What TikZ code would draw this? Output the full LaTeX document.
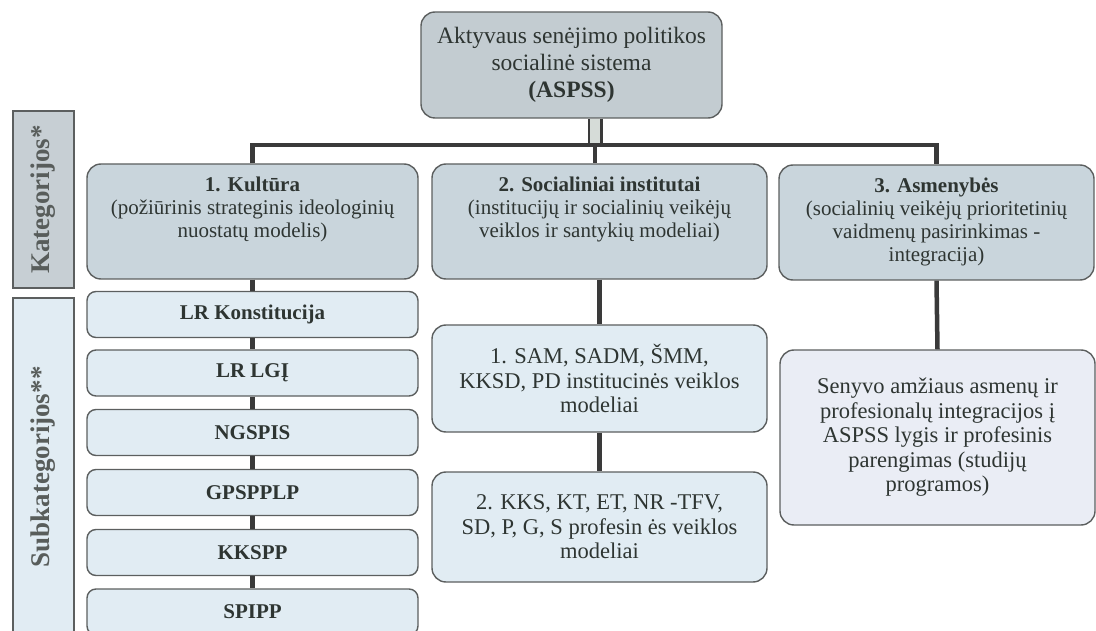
\documentclass[tikz,border=0pt]{standalone}
\usepackage{fontspec}
\setmainfont{Liberation Serif}
\usetikzlibrary{positioning}

\definecolor{linegray}{HTML}{3A3A3A}
\definecolor{trunkfill}{HTML}{D6DCD8}
\definecolor{boxline}{HTML}{5C5F5F}
\definecolor{textcol}{HTML}{2E3532}
\definecolor{topfill}{HTML}{C3CCD1}
\definecolor{catfill}{HTML}{C9D5DC}
\definecolor{katfill}{HTML}{C7CFD4}
\definecolor{subfill}{HTML}{E1ECF3}
\definecolor{senfill}{HTML}{EAEDF5}

\tikzset{
    box/.style={draw=boxline, line width=1.4pt, rounded corners=14pt, inner sep=0pt, text=textcol, align=center},
    topbox/.style={box, fill=topfill, minimum width=301pt, minimum height=106pt, font=\fontsize{23.5}{27}\selectfont},
    catbox/.style={box, fill=catfill, minimum height=115pt},
    cattext/.style={align=center, text=textcol, inner sep=2pt, font=\fontsize{21}{23}\selectfont},
    subbox/.style={box, rounded corners=9pt, fill=subfill, minimum width=331pt, minimum height=46pt, font=\fontsize{21}{24}\selectfont\bfseries},
    modbox/.style={box, fill=subfill, minimum width=335pt, font=\fontsize{22.5}{24.5}\selectfont},
    sidebox/.style={draw=boxline, line width=1.4pt, rotate=90, minimum height=61pt, inner sep=0pt, text=textcol!80, font=\fontsize{27}{30}\selectfont\bfseries},
    link/.style={draw=linegray, line width=4.5pt},
    trunk/.style={draw=linegray, line width=2.5pt, double=trunkfill, double distance=10pt}
}

\begin{document}
\begin{tikzpicture}[x=1pt, y=-1pt]
    \useasboundingbox (0,0) rectangle (1096,631);

    % side labels
    \node[sidebox, fill=katfill, minimum width=177pt] (kat) at (43.5,199.5) {Kategorijos*};
    \node[sidebox, fill=subfill, minimum width=338pt] (subkat) at (43.5,467) {Subkategorijos**};

    % top and categories
    \node[topbox] (asp) at (571.5,65) {Aktyvaus senėjimo politikos\\socialinė sistema\\\textbf{(ASPSS)}};
    \node[catbox, minimum width=331pt] (c1) at (252.5,221.5) {};
    \node[catbox, minimum width=335pt] (c2) at (599.5,221.5) {};
    \node[catbox, minimum width=315pt] (c3) at (936.5,222.5) {};
    \node[cattext, below=11pt of c1.north] (t1) {\textbf{1. Kultūra}\\(požiūrinis strateginis ideologinių\\nuostatų modelis)};
    \node[cattext, below=11pt of c2.north] (t2) {\textbf{2. Socialiniai institutai}\\(institucijų ir socialinių veikėjų\\veiklos ir santykių modeliai)};
    \node[cattext, below=11pt of c3.north] (t3) {\textbf{3. Asmenybės}\\(socialinių veikėjų prioritetinių\\vaidmenų pasirinkimas -\\integracija)};

    % subcategories
    \node[subbox] (s1) at (252.5,314.5) {LR Konstitucija};
    \node[subbox] (s2) at (252.5,373) {LR LGĮ};
    \node[subbox] (s3) at (252.5,432.5) {NGSPIS};
    \node[subbox] (s4) at (252.5,492.5) {GPSPPLP};
    \node[subbox] (s5) at (252.5,552.5) {KKSPP};
    \node[subbox] (s6) at (252.5,612) {SPIPP};

    \node[modbox, minimum height=107pt] (sam) at (599.5,378.5) {1. SAM, SADM, ŠMM,\\KKSD, PD institucinės veiklos\\modeliai};
    \node[modbox, minimum height=110pt] (kks) at (599.5,527) {2. KKS, KT, ET, NR -TFV,\\SD, P, G, S profesin ės veiklos\\modeliai};
    \node[modbox, fill=senfill, minimum width=315pt, minimum height=175pt] (sen) at (937.5,437.5) {Senyvo amžiaus asmenų ir\\profesionalų integracijos į\\ASPSS lygis ir profesinis\\parengimas (studijų\\programos)};

    % connectors
    \coordinate (hub) at (595,145);
    \draw[trunk] (asp.south -| hub) -- (hub);
    \draw[link] (c1.north) |- (hub) -| (c3.north);
    \draw[link] (hub) -- (hub |- c2.north);
    \foreach \a/\b in {c1/s1,s1/s2,s2/s3,s3/s4,s4/s5,s5/s6,c2/sam,sam/kks,c3/sen}
        \draw[link] (\a.south) -- (\b.north);
\end{tikzpicture}
\end{document}
